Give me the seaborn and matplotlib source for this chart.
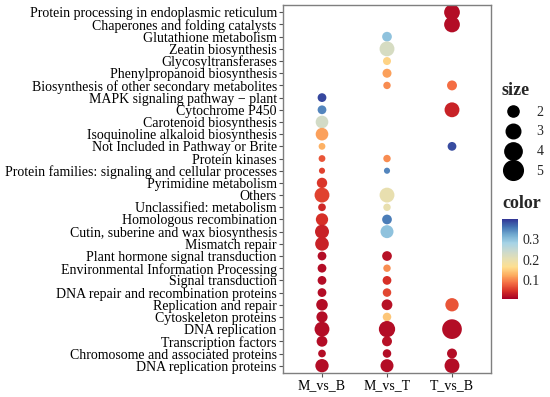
import numpy as np
import pandas as pd
import matplotlib
matplotlib.use("Agg")
import matplotlib.pyplot as plt
from matplotlib.colors import LinearSegmentedColormap
from matplotlib.lines import Line2D
import seaborn as sns

# pathways, top to bottom
pathways = [
    "Protein processing in endoplasmic reticulum",
    "Chaperones and folding catalysts",
    "Glutathione metabolism",
    "Zeatin biosynthesis",
    "Glycosyltransferases",
    "Phenylpropanoid biosynthesis",
    "Biosynthesis of other secondary metabolites",
    "MAPK signaling pathway \u2212 plant",
    "Cytochrome P450",
    "Carotenoid biosynthesis",
    "Isoquinoline alkaloid biosynthesis",
    "Not Included in Pathway or Brite",
    "Protein kinases",
    "Protein families: signaling and cellular processes",
    "Pyrimidine metabolism",
    "Others",
    "Unclassified: metabolism",
    "Homologous recombination",
    "Cutin, suberine and wax biosynthesis",
    "Mismatch repair",
    "Plant hormone signal transduction",
    "Environmental Information Processing",
    "Signal transduction",
    "DNA repair and recombination proteins",
    "Replication and repair",
    "Cytoskeleton proteins",
    "DNA replication",
    "Transcription factors",
    "Chromosome and associated proteins",
    "DNA replication proteins",
]
groups = ["M_vs_B", "M_vs_T", "T_vs_B"]

# dot size per group (None = no dot)
size_mvb = [None, None, None, None, None, None, None, 1.45, 1.45, 2.4, 2.4, 1.1,
            1.1, 0.86, 1.8, 3.1, 1.25, 2.3, 2.8, 2.7, 1.45, 1.45, 1.45, 1.45,
            2.1, 2.0, 3.1, 1.9, 1.25, 2.6]
size_mvt = [None, None, 1.65, 3.1, 1.3, 1.5, 1.2, None, None, None, None, None,
            1.2, 0.7, None, 3.1, 1.2, 1.65, 2.5, None, 1.65, 1.2, 1.45, 1.4,
            1.9, 1.4, 3.6, 1.7, 1.4, 2.5]
size_tvb = [3.4, 3.4, None, None, None, None, 1.7, None, 3.1, None, None, 1.45,
            None, None, None, None, None, None, None, None, None, None, None, None,
            2.6, None, 5.8, None, 1.7, 3.1]

# colour value per group
p_mvb = [None, None, None, None, None, None, None, 0.388, 0.349, 0.23, 0.117, 0.128,
         0.07, 0.058, 0.05, 0.058, 0.04, 0.046, 0.035, 0.035, 0.019, 0.019, 0.019, 0.019,
         0.019, 0.019, 0.019, 0.019, 0.019, 0.019]
p_mvt = [None, None, 0.30, 0.225, 0.155, 0.117, 0.105, None, None, None, None, None,
         0.105, 0.349, None, 0.20, 0.20, 0.355, 0.30, None, 0.022, 0.105, 0.046, 0.062,
         0.022, 0.145, 0.019, 0.022, 0.019, 0.019]
p_tvb = [0.019, 0.019, None, None, None, None, 0.086, None, 0.035, None, None, 0.385,
         None, None, None, None, None, None, None, None, None, None, None, None,
         0.07, None, 0.019, None, 0.019, 0.019]

rows = []
for g, sz, pv in zip(groups, [size_mvb, size_mvt, size_tvb], [p_mvb, p_mvt, p_tvb]):
    for name, s, p in zip(pathways, sz, pv):
        if s is not None:
            rows.append({"group": g, "pathway": name, "size": s, "color": p})
df = pd.DataFrame(rows)
df["group"] = pd.Categorical(df["group"], categories=groups)
df["pathway"] = pd.Categorical(df["pathway"], categories=pathways)

sns.set_style("white")
plt.rcParams["font.family"] = ["Liberation Serif", "DejaVu Serif"]

# red-yellow-blue ramp with a muted middle
cmap = LinearSegmentedColormap.from_list("ryb", [
    "#a50026", "#d73027", "#f46d43", "#fdae61", "#fedf90",
    "#e6dfb2", "#c9d9cf", "#a6d3e6", "#74add1", "#4575b4", "#313695"])

vmin, vmax = 0.007, 0.40
size_norm = (1, 5)
size_range = (37.5 * 0.5184, 387.5 * 0.5184)  # points^2

fig = plt.figure(figsize=(5.5, 3.97), dpi=100)
ax = fig.add_axes([283 / 550, 1 - 373 / 397, 208 / 550, 368 / 397])
sns.scatterplot(data=df, x="group", y="pathway", hue="color", size="size",
                palette=cmap, hue_norm=(vmin, vmax),
                sizes=size_range, size_norm=size_norm,
                linewidth=0, legend=False, ax=ax)

ax.set_xlim(-0.6, 2.6)
ax.set_ylim(len(pathways) - 0.4, -0.6)
ax.set_xlabel("")
ax.set_ylabel("")
for sp in ax.spines.values():
    sp.set_color("#7f7f7f")
    sp.set_linewidth(1.0)
ax.tick_params(axis="both", which="both", length=3, width=0.8, color="#555555",
               labelsize=10, labelcolor="black", pad=1.5, left=True, bottom=True)

# size legend
def area(v):
    return size_range[0] + (v - size_norm[0]) / (size_norm[1] - size_norm[0]) * (size_range[1] - size_range[0])

handles = [Line2D([], [], marker="o", linestyle="", color="black",
                  markersize=np.sqrt(area(v))) for v in [2, 3, 4, 5]]
leg = ax.legend(handles, ["2", "3", "4", "5"], title="size",
                loc="upper left", bbox_to_anchor=(496 / 550, 1 - 76 / 397),
                bbox_transform=fig.transFigure, frameon=False, fontsize=10,
                labelspacing=0.5, handletextpad=0.9, borderaxespad=0,
                handlelength=1.6, alignment="left",
                title_fontproperties={"weight": "bold", "size": 13})

# colour bar
cax = fig.add_axes([502 / 550, 1 - 299 / 397, 16 / 550, 80 / 397])
sm = plt.cm.ScalarMappable(cmap=cmap, norm=plt.Normalize(vmin, vmax))
cb = fig.colorbar(sm, cax=cax, ticks=[0.1, 0.2, 0.3])
cb.outline.set_visible(False)
cax.yaxis.set_ticks_position("both")
cax.tick_params(length=3, width=0.8, color="white", direction="in", labelsize=10,
                pad=3, labelleft=False, labelright=True)
fig.text(502 / 550, 1 - 203 / 397, "color", fontsize=13, fontweight="bold",
         ha="left", va="center")

fig.savefig("out.png", dpi=100)
